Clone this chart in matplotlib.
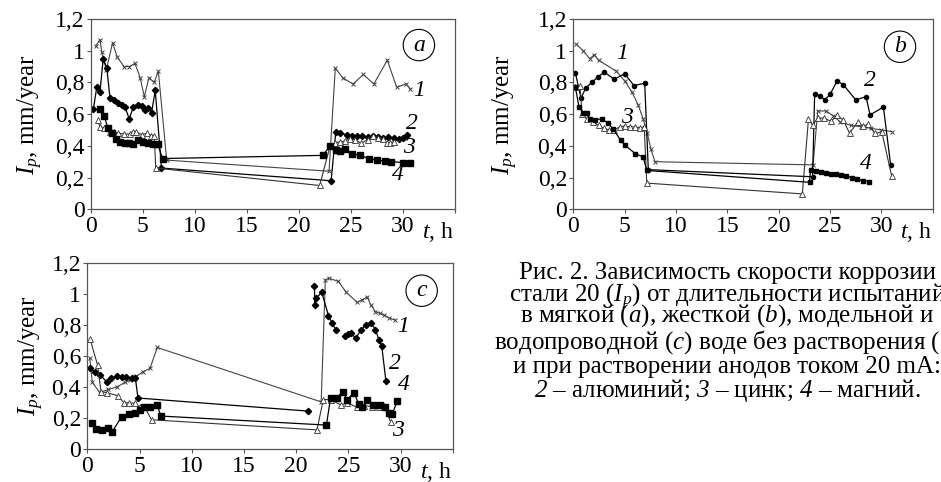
import numpy as np
import matplotlib
matplotlib.use("Agg")
import matplotlib.pyplot as plt

plt.rcParams['font.family'] = ['Liberation Serif', 'DejaVu Serif']
# math text is only used for italic pieces (I_p, a, b, c and the curve numbers)
plt.rcParams['mathtext.fontset'] = 'custom'
plt.rcParams['mathtext.rm'] = 'Liberation Serif:italic'
plt.rcParams['mathtext.it'] = 'Liberation Serif:italic'

nan = np.nan

# ---- panel a (soft water) ----
a1_t = [0.48, 0.9, 1.06, 1.5, 2.1, 2.55, 3.2, 3.7, 4.25, 4.75, 5.15, 5.6, 6.1, 6.5, 7.3,
        22.9, 23.5, 24.2, 25.2, 26.2, 27.2, 28.5, 29.4, 30.3, 30.7]
a1_y = [1.03, 1.07, 0.99, 0.88, 1.05, 0.96, 0.90, 0.90, 0.92, 0.83, 0.71, 0.83, 0.80, 0.87, 0.31,
        0.24, 0.89, 0.83, 0.79, 0.85, 0.79, 0.94, 0.77, 0.79, 0.76]
a2_t = [0.25, 0.58, 0.89, 1.2, 1.55, 1.85, 2.2, 2.65, 3.0, 3.3, 3.7, 4.1, 4.55, 4.9, 5.2, 5.55, 5.85, 6.2, 6.8,
        23.1, 23.55, 24.0, 24.6, 25.1, 25.6, 26.1, 26.6, 27.1, 27.6, 28.1, 28.6, 29.1, 29.6, 30.0, 30.4]
a2_y = [0.63, 0.77, 0.74, 0.95, 0.89, 0.70, 0.69, 0.67, 0.66, 0.645, 0.57, 0.645, 0.655, 0.65, 0.625, 0.64, 0.61, 0.75, 0.26,
        0.18, 0.49, 0.48, 0.47, 0.46, 0.465, 0.46, 0.455, 0.46, 0.455, 0.45, 0.455, 0.45, 0.445, 0.45, 0.47]
a3_t = [0.67, 0.89, 1.3, 1.85, 2.25, 2.65, 3.2, 3.75, 4.05, 4.35, 4.9, 5.4, 5.8, 6.1, 6.25,
        22.0, 23.0, 23.5, 23.95, 24.4, 24.9, 25.4, 26.0, 26.6, 27.15, 27.6, 28.1, 28.45, 28.8, 29.1]
a3_y = [0.56, 0.52, 0.51, 0.49, 0.485, 0.48, 0.475, 0.475, 0.49, 0.49, 0.47, 0.48, 0.465, 0.465, 0.26,
        0.15, 0.40, 0.42, 0.425, 0.43, 0.445, 0.44, 0.415, 0.44, 0.465, 0.45, 0.445, 0.42, 0.42, 0.425]
a4_t = [0.9, 1.3, 1.65, 2.0, 2.4, 2.8, 3.25, 3.65, 4.05, 4.5, 5.05, 5.5, 6.0, 6.45, 6.9,
        22.3, 23.0, 23.6, 24.0, 24.45, 25.1, 25.9, 26.7, 27.5, 28.3, 28.9, 30.0, 30.7]
a4_y = [0.635, 0.59, 0.51, 0.48, 0.445, 0.425, 0.42, 0.415, 0.41, 0.435, 0.425, 0.42, 0.41, 0.41, 0.32,
        0.34, 0.40, 0.375, 0.37, 0.38, 0.35, 0.34, 0.32, 0.31, 0.305, 0.30, 0.295, 0.29]

# ---- panel b (hard water) ----
b1_t = [0.3, 0.95, 1.6, 2.05, 2.45, 4.2, 5.0, 5.7, 6.3, 6.8, 7.2, 7.55, 7.95,
        23.35, 23.8, 24.6, 25.3, 26.0, 27.0, 28.0, 29.0, 30.0, 31.0]
b1_y = [1.04, 1.0, 0.95, 0.975, 0.94, 0.87, 0.81, 0.74, 0.66, 0.57, 0.48, 0.38, 0.30,
        0.28, 0.62, 0.62, 0.59, 0.55, 0.53, 0.52, 0.51, 0.50, 0.49]
b2_t = [0.2, 0.75, 1.2, 1.8, 2.4, 3.0, 4.0, 5.0, 5.9, 6.95, 7.3,
        23.3, 23.5, 24.05, 24.5, 25.0, 25.7, 26.3, 27.5, 28.5, 28.9, 30.2, 30.9]
b2_y = [0.86, 0.70, 0.765, 0.80, 0.835, 0.865, 0.82, 0.855, 0.78, 0.795, 0.25,
        0.205, 0.725, 0.715, 0.69, 0.725, 0.81, 0.785, 0.69, 0.71, 0.595, 0.645, 0.28]
b3_t = [0.2, 0.65, 0.85, 1.3, 1.9, 2.45, 3.0, 3.5, 4.0, 4.5, 5.0, 5.5, 6.0, 6.5, 6.9, 7.15,
        22.3, 22.9, 23.3, 23.8, 24.4, 25.1, 25.7, 26.3, 26.9, 27.7, 28.2, 28.7, 29.35, 30.05, 31.0]
b3_y = [0.77, 0.775, 0.60, 0.57, 0.55, 0.53, 0.51, 0.50, 0.50, 0.52, 0.525, 0.52, 0.52, 0.515, 0.52, 0.165,
        0.097, 0.57, 0.53, 0.575, 0.575, 0.555, 0.595, 0.56, 0.48, 0.55, 0.525, 0.535, 0.48, 0.485, 0.21]
b4_t = [0.2, 0.55, 0.95, 1.3, 1.6, 2.1, 2.75, 3.35, 3.9, 4.6, 5.0, 6.05, 6.8, 7.15,
        23.0, 23.1, 23.6, 24.1, 24.65, 25.1, 25.6, 26.1, 26.6, 27.1, 27.6, 28.2, 28.8]
b4_y = [0.77, 0.645, 0.61, 0.61, 0.57, 0.565, 0.57, 0.545, 0.505, 0.435, 0.405, 0.35, 0.33, 0.245,
        0.17, 0.245, 0.24, 0.235, 0.23, 0.225, 0.22, 0.215, 0.21, 0.2, 0.19, 0.18, 0.175]

# ---- panel c (model / tap water) ----
c1_t = [0.23, 0.48, 1.2, 2.0, 2.8, 3.6, 4.07, 4.7, 5.35, 6.0, 6.7,
        22.4, 22.8, 23.15, 24.05, 24.8, 25.85, 26.3, 26.8, 27.15, 27.6, 28.0, 28.4, 28.9, 29.5]
c1_y = [0.59, 0.43, 0.365, 0.385, 0.40, 0.43, 0.445, 0.47, 0.50, 0.52, 0.655,
        0.305, 1.09, 1.10, 1.08, 1.01, 0.945, 0.96, 0.98, 0.93, 0.885, 0.875, 0.865, 0.845, 0.83]
c2_t = [0.26, 0.73, 1.2, 1.85, 2.3, 2.8, 3.3, 3.75, 4.25, 4.6, 4.85, 21.1, nan,
        21.75, 21.8, 21.9, 22.45, 23.1, 23.45, 23.8, nan,
        24.7, 25.0, 25.25, 25.7, 26.2, 26.65, 27.15, 27.6, 27.95, 28.2, 28.6]
c2_y = [0.52, 0.50, 0.48, 0.435, 0.457, 0.47, 0.463, 0.463, 0.457, 0.46, 0.33, 0.246, nan,
        1.05, 0.93, 0.97, 1.01, 0.86, 0.81, 0.77, nan,
        0.73, 0.74, 0.75, 0.715, 0.765, 0.80, 0.815, 0.77, 0.70, 0.665, 0.44]
c3_t = [0.26, 0.99, 1.31, 1.85, 2.9, 3.5, 4.0, 4.55, 5.0, 5.5, 6.15,
        22.0, 22.6, 23.3, 24.3, 24.9, 25.85, 26.5, 27.3, 27.9, 28.4, 29.05]
c3_y = [0.71, 0.54, 0.37, 0.365, 0.345, 0.30, 0.30, 0.295, 0.275, 0.27, 0.19,
        0.125, 0.32, 0.32, 0.285, 0.30, 0.27, 0.28, 0.275, 0.275, 0.28, 0.178]
c4_t = [0.48, 0.8, 1.37, 1.94, 2.39, 3.28, 3.98, 4.55, 5.03, 5.44, 5.98, 6.71, 7.03,
        22.9, 23.3, 23.9, 24.45, 24.9, 25.55, 26.0, 26.35, 26.8, 27.4, 28.0, 28.5, 28.9, 29.2, 29.7]
c4_y = [0.167, 0.13, 0.124, 0.135, 0.113, 0.21, 0.227, 0.236, 0.253, 0.274, 0.274, 0.285, 0.214,
        0.156, 0.33, 0.33, 0.37, 0.32, 0.365, 0.29, 0.27, 0.32, 0.285, 0.285, 0.275, 0.235, 0.227, 0.31]

yticks = [0, 0.2, 0.4, 0.6, 0.8, 1.0, 1.2]
ytick_labels = ['0', '0,2', '0,4', '0,6', '0,8', '1', '1,2']
xticks = [0, 5, 10, 15, 20, 25, 30, 35]
xtick_labels = ['0', '5', '10', '15', '20', '25', '30', '']

cap_line1 = 'Рис. 2. Зависимость скорости коррозии'
cap_line2 = 'стали 20 ($I_p$) от длительности испытаний'
cap_rest = ('в мягкой ($a$), жесткой ($b$), модельной и\n'
            'водопроводной ($c$) воде без растворения ($1$)\n'
            'и при растворении анодов током 20 mA:\n'
            '$2$ – алюминий; $3$ – цинк; $4$ – магний.')

fig = plt.figure(figsize=(9.41, 4.82), dpi=100)
ax_a = fig.add_axes([0.0964, 0.5658, 0.3871, 0.3948])
ax_b = fig.add_axes([0.6093, 0.5658, 0.3819, 0.3948])
ax_c = fig.add_axes([0.0928, 0.0678, 0.3883, 0.3871])

s1 = dict(color='#444444', lw=0.8, marker='x', ms=3.5, mew=0.7)
s2 = dict(color='black', lw=0.9, marker='D', ms=3.2)
s3 = dict(color='#333333', lw=0.8, marker='^', ms=4, mfc='white', mew=0.6)
s4 = dict(color='black', lw=0.9, marker='s', ms=3.8)
FS = 17


def setup(ax, letter, circ, ylab_x):
    ax.set_xlim(0, 35)
    ax.set_ylim(0, 1.2)
    ax.set_xticks(xticks)
    ax.set_xticklabels(xtick_labels, fontsize=FS)
    ax.set_yticks(yticks)
    ax.set_yticklabels(ytick_labels, fontsize=FS)
    ax.tick_params(direction='out', length=3, width=0.8, color='#555555', pad=1.5)
    for sp in ax.spines.values():
        sp.set_color('#555555')
        sp.set_linewidth(0.9)
    ax.set_ylabel('$I_p$, mm/year', fontsize=18)
    ax.yaxis.set_label_coords(ylab_x, 0.5)
    ax.text(33.4, -0.055, '$t$, h', transform=ax.get_xaxis_transform(),
            ha='center', va='top', fontsize=FS)
    ax.text(circ[0], circ[1], letter, transform=ax.transAxes, ha='center', va='center',
            fontsize=FS, fontstyle='italic',
            bbox=dict(boxstyle='circle,pad=0.22', fc='white', ec='black', lw=0.8))


def curve_labels(ax, spots):
    for lab, (x, y) in zip('1234', spots):
        ax.text(x, y, lab, fontsize=FS, fontstyle='italic', ha='center', va='center')


ax_a.plot(a1_t, a1_y, **s1)
ax_a.plot(a2_t, a2_y, **s2)
ax_a.plot(a3_t, a3_y, **s3)
ax_a.plot(a4_t, a4_y, **s4)
setup(ax_a, 'a', (0.901, 0.863), -0.125)
curve_labels(ax_a, [(31.6, 0.75), (30.9, 0.54), (30.6, 0.39), (29.5, 0.22)])

b2 = dict(s2, marker='o', ms=3)
b4 = dict(s4, marker='s', ms=3)
ax_b.plot(b1_t, b1_y, **s1)
ax_b.plot(b2_t, b2_y, **b2)
ax_b.plot(b3_t, b3_y, **s3)
ax_b.plot(b4_t, b4_y, **b4)
setup(ax_b, 'b', (0.909, 0.854), -0.148)
curve_labels(ax_b, [(4.7, 0.98), (28.9, 0.81), (5.2, 0.58), (28.5, 0.29)])

ax_c.plot(c1_t, c1_y, **s1)
ax_c.plot(c2_t, c2_y, **s2)
ax_c.plot(c3_t, c3_y, **s3)
ax_c.plot(c4_t, c4_y, **s4)
setup(ax_c, 'c', (0.915, 0.85), -0.112)
curve_labels(ax_c, [(30.2, 0.79), (29.5, 0.55), (29.8, 0.12), (30.3, 0.42)])

# caption, centred and running past the right edge like the source scan
cap = dict(ha='center', va='baseline', multialignment='center', fontsize=18)
fig.text(0.773, 1 - 278.5 / 482, cap_line1, **cap)
fig.text(0.773, 1 - 302.5 / 482, cap_line2, **cap)
# va='baseline' on a multi-line block anchors its last line
fig.text(0.773, 1 - 397.0 / 482, cap_rest, linespacing=0.965, **cap)

fig.savefig('out.png', dpi=100)
